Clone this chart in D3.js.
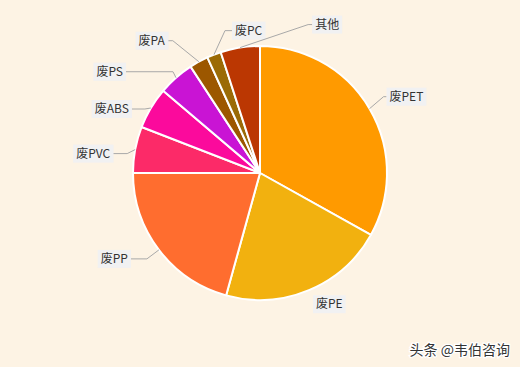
<!DOCTYPE html>
<html>
<head>
<meta charset="utf-8">
<script src="https://cdn.jsdelivr.net/npm/d3@7/dist/d3.min.js"></script>
<style>
  html, body { margin: 0; padding: 0; background: #fdf3e4; }
  svg { display: block; font-family: "Microsoft YaHei", "Noto Sans CJK SC", sans-serif; }
</style>
</head>
<body>
<div id="chart"></div>
<script>
// share of each plastic waste type (%)
const categories = ["废PET", "废PE", "废PP", "废PVC", "废ABS", "废PS", "废PA", "废PC", "其他"];
const shares = [33.1, 21.2, 20.7, 5.9, 5.3, 4.6, 2.4, 1.8, 5.0];
const colors = ["#ff9a00", "#f2b10f", "#ff6d2f", "#fc2a68", "#fb0a9c", "#c914d4", "#9c5700", "#9b6b06", "#bb3702"];

// label placement relative to the slice edge point: side, elbow dx/dy, second segment length
const labelLayout = [
    { side: 1, ex: 14, ey: -12, len2: 3, line: true },
    { side: 1, ex: 4, ey: 14, len2: 0, line: false },
    { side: -1, ex: 12, ey: 9, len2: 16, line: true },
    { side: -1, ex: 8, ey: 4, len2: 14, line: true },
    { side: -1, ex: 6, ey: 1, len2: 13, line: true },
    { side: -1, ex: 3, ey: -6, len2: 47, line: true },
    { side: -1, ex: 26, ey: -21, len2: 5, line: true },
    { side: 1, ex: 11, ey: -24, len2: 7, line: true },
    { side: 1, ex: 68, ey: -23, len2: 4, line: true }
];

let width = 520;
let height = 367;
let cx = 260, cy = 173, radius = 127;

let svg = d3.select("#chart").append("svg")
    .attr("width", width)
    .attr("height", height)

svg.append("rect").attr("width", width).attr("height", height).attr("fill", "#fdf3e4")

let data = categories.map((c, i) => ({ name: c, value: shares[i], color: colors[i], layout: labelLayout[i] }))

let pie = d3.pie().sort(null).value(d => d.value)
let arcs = pie(data)

let arc = d3.arc().innerRadius(0).outerRadius(radius)
let edgeArc = d3.arc().innerRadius(radius).outerRadius(radius)

let g = svg.append("g").attr("transform", "translate(" + cx + "," + cy + ")")

g.selectAll("path.slice").data(arcs).enter().append("path")
    .attr("class", "slice")
    .attr("d", arc)
    .attr("fill", d => d.data.color)
    .attr("stroke", "#ffffff")
    .attr("stroke-width", 2)
    .attr("stroke-linejoin", "round")

// leader lines + labels
arcs.forEach(function (d) {
    let L = d.data.layout
    let p1 = edgeArc.centroid(d)
    let p2 = [p1[0] + L.side * L.ex, p1[1] + L.ey]
    let p3 = [p2[0] + L.side * L.len2, p2[1]]

    if (L.line) {
        g.append("polyline")
            .attr("points", [p1, p2, p3].map(p => p.join(",")).join(" "))
            .attr("fill", "none")
            .attr("stroke", "#a8a8a8")
            .attr("stroke-width", 1)
    }

    let gap = 3
    let lab = g.append("g")
    let txt = lab.append("text")
        .attr("x", p3[0] + L.side * gap)
        .attr("y", p3[1])
        .attr("dy", "0.35em")
        .attr("text-anchor", L.side > 0 ? "start" : "end")
        .attr("font-size", 12)
        .attr("fill", "#333")
        .text(d.data.name)
    let bb = txt.node().getBBox()
    lab.insert("rect", "text")
        .attr("x", bb.x - 3)
        .attr("y", p3[1] - 9)
        .attr("width", bb.width + 6)
        .attr("height", 18)
        .attr("fill", "#eef0f4")
        .attr("opacity", 0.85)
})

// watermark
svg.append("text")
    .attr("x", 510)
    .attr("y", 350)
    .attr("dy", "0.35em")
    .attr("text-anchor", "end")
    .attr("font-size", 14)
    .attr("fill", "#333")
    .attr("stroke", "#ffffff")
    .attr("stroke-width", 2.5)
    .attr("paint-order", "stroke")
    .text("头条 @韦伯咨询")
</script>
</body>
</html>
